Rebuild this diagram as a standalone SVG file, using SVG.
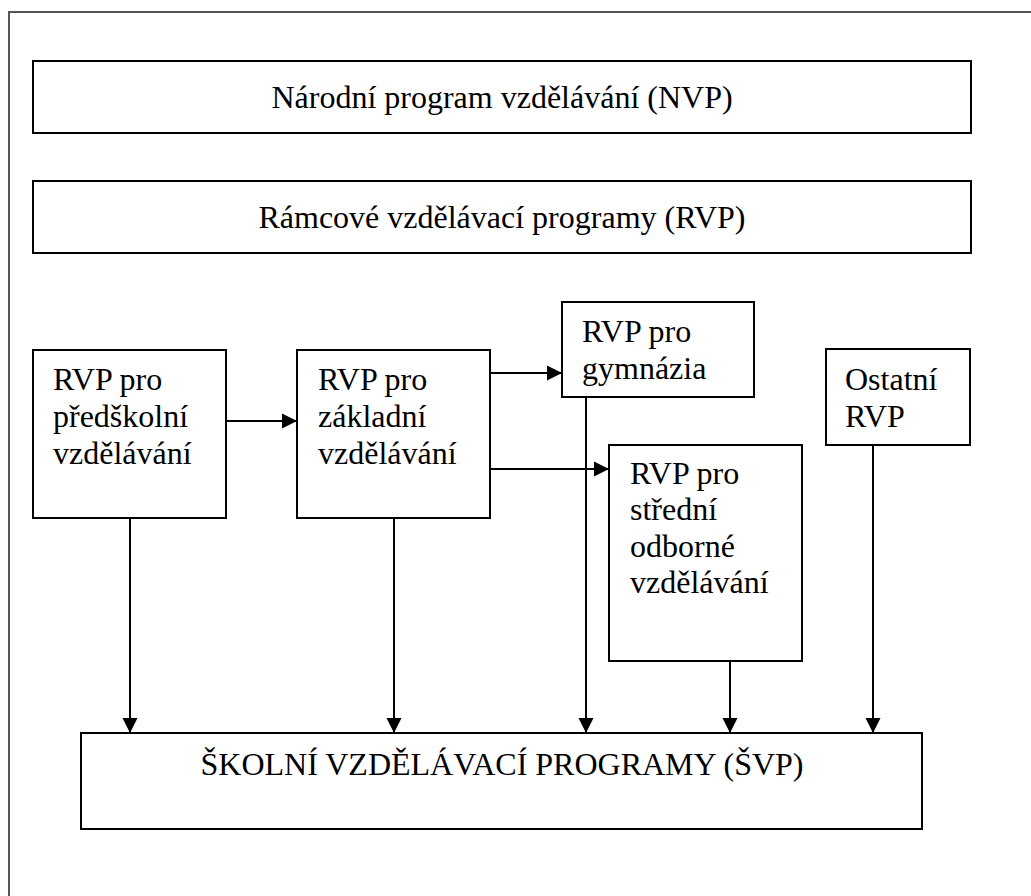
<svg xmlns="http://www.w3.org/2000/svg" width="1031" height="896" viewBox="0 0 1031 896">
<style>
.box{fill:#fff;stroke:#000;stroke-width:2}
.t{font-family:'Liberation Serif','Times New Roman','DejaVu Serif',serif;font-size:32px;fill:#000}
.c{text-anchor:middle}
.ln{stroke:#000;stroke-width:2;fill:none}
</style>
<defs>
<marker id="ah" markerUnits="userSpaceOnUse" markerWidth="16" markerHeight="16" refX="15" refY="8" orient="auto">
<path d="M0,0.5 L15,8 L0,15.5 z" fill="#000"/>
</marker>
</defs>
<rect width="1031" height="896" fill="#fff"/>
<rect x="9" y="12" width="1040" height="900" fill="none" stroke="#555" stroke-width="2"/>
<g id="nvp"><rect class="box" x="33" y="61" width="938" height="72"/><text class="t c" x="502" y="108">Národní program vzdělávání (NVP)</text></g>
<g id="rvp"><rect class="box" x="33" y="181" width="938" height="72"/><text class="t c" x="502" y="228">Rámcové vzdělávací programy (RVP)</text></g>
<g id="pred"><rect class="box" x="33" y="350" width="193" height="168"/><text class="t" x="53" y="390">RVP pro</text><text class="t" x="53" y="427">předškolní</text><text class="t" x="53" y="464">vzdělávání</text></g>
<g id="zakl"><rect class="box" x="297" y="350" width="193" height="168"/><text class="t" x="318" y="390">RVP pro</text><text class="t" x="318" y="427">základní</text><text class="t" x="318" y="464">vzdělávání</text></g>
<g id="gym"><rect class="box" x="562" y="302" width="192" height="95"/><text class="t" x="582" y="342">RVP pro</text><text class="t" x="582" y="379">gymnázia</text></g>
<g id="ost"><rect class="box" x="826" y="349" width="144" height="96"/><text class="t" x="845" y="390">Ostatní</text><text class="t" x="845" y="427">RVP</text></g>
<g id="sov"><rect class="box" x="609" y="445" width="193" height="216"/><text class="t" x="630" y="484">RVP pro</text><text class="t" x="630" y="520">střední</text><text class="t" x="630" y="557">odborné</text><text class="t" x="630" y="593">vzdělávání</text></g>
<g id="svp"><rect class="box" x="81" y="733" width="841" height="96"/><text class="t c" x="502" y="775">ŠKOLNÍ VZDĚLÁVACÍ PROGRAMY (ŠVP)</text></g>
<g id="connectors">
<line class="ln" x1="226" y1="421" x2="297" y2="421" marker-end="url(#ah)"/>
<line class="ln" x1="490" y1="373" x2="562" y2="373" marker-end="url(#ah)"/>
<line class="ln" x1="490" y1="469" x2="609" y2="469" marker-end="url(#ah)"/>
<line class="ln" x1="130" y1="518" x2="130" y2="733" marker-end="url(#ah)"/>
<line class="ln" x1="394" y1="518" x2="394" y2="733" marker-end="url(#ah)"/>
<line class="ln" x1="586" y1="397" x2="586" y2="733" marker-end="url(#ah)"/>
<line class="ln" x1="730" y1="661" x2="730" y2="733" marker-end="url(#ah)"/>
<line class="ln" x1="873" y1="445" x2="873" y2="733" marker-end="url(#ah)"/>
</g>
</svg>
